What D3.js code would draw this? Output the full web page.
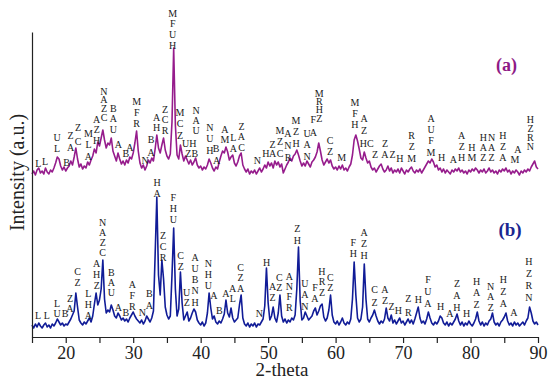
<!DOCTYPE html>
<html>
<head>
<meta charset="utf-8">
<script src="https://cdn.jsdelivr.net/npm/d3@7"></script>
<style>
  html, body { margin: 0; padding: 0; background: #fff; }
  svg { display: block; }
  svg text { font-family: "Liberation Serif", "Times New Roman", "DejaVu Serif", serif !important; }
</style>
</head>
<body>
<svg id="chart" width="550" height="383"></svg>
<script>
// ---------- DATA ----------
const thetaStart = 15;
const thetaStep = 0.25;

// (a) sample pattern, intensity (a.u., offset trace)
const seriesA = [
163,166,162,167,169,164,166,163,169,165,163,167,165,169,174,180,178,171,167,170,
166,169,171,176,172,180,189,178,170,173,168,171,169,175,172,177,181,188,184,195,
191,199,207,197,189,194,192,199,186,181,176,184,178,173,176,172,177,174,180,178,
184,194,206,186,174,169,172,167,171,177,174,179,176,188,202,189,184,192,199,187,
181,178,183,215,289,212,182,178,192,183,176,181,177,173,177,172,175,179,172,169,
171,167,170,168,172,178,174,169,166,170,168,175,181,186,184,190,185,177,180,182,
174,171,175,181,184,172,168,165,168,163,166,164,167,163,166,169,165,168,172,169,
175,171,174,169,176,172,175,170,173,164,168,172,175,179,176,181,183,187,182,176,
171,174,171,176,173,170,175,177,180,185,194,186,177,172,175,178,174,177,171,168,
170,167,171,168,172,167,169,166,170,173,182,197,202,196,188,179,177,185,179,174,
176,170,167,169,165,168,171,173,168,165,167,171,166,169,164,167,165,168,164,169,
166,163,167,165,168,170,166,164,167,165,168,164,167,170,173,176,174,178,175,170,
172,167,169,165,168,164,167,165,163,167,165,168,166,169,165,167,164,166,163,167,
165,168,166,169,167,164,167,165,168,164,166,169,165,167,164,166,163,167,165,168,
166,169,165,167,163,166,164,167,165,162,166,164,167,165,168,166,170,173,176,170,
168];

// (b) sample pattern
const seriesB = [
12,9,13,10,14,11,9,12,14,10,12,9,13,11,14,18,15,12,14,11,
13,12,15,18,22,26,44,30,17,14,12,15,13,16,19,15,21,33,44,32,
37,48,77,38,24,27,25,32,27,21,19,24,21,17,19,16,18,15,19,22,
25,21,18,16,14,17,13,16,21,18,15,19,26,82,140,62,42,77,58,30,
22,18,21,62,109,48,21,28,65,34,17,21,25,16,19,24,28,25,17,14,
12,15,11,14,24,44,29,18,21,15,13,16,14,18,23,37,24,20,29,19,
15,17,19,32,42,19,13,11,14,10,13,11,14,10,13,12,15,18,31,69,
34,17,21,30,19,15,24,42,21,15,18,14,17,15,19,17,22,48,90,36,
17,19,25,21,17,19,21,26,29,22,26,31,33,20,16,19,27,42,22,15,
13,16,12,15,19,14,12,15,13,18,38,75,42,19,15,18,30,73,38,18,
15,19,22,27,21,16,13,16,14,18,29,19,16,22,14,17,13,16,19,14,
16,12,15,18,14,17,13,18,24,30,19,14,16,13,18,25,19,14,12,15,
13,16,21,19,14,12,15,11,14,12,15,18,23,16,12,15,11,14,12,16,
13,11,14,18,25,16,12,15,11,14,12,16,18,24,15,12,14,11,15,17,
20,24,16,12,14,11,15,12,14,11,13,15,12,16,19,30,24,16,13,15,
12];

// phase annotations: [2-theta, intensity of lowest letter, intensity of top letter, letters top→bottom]
const labelsA = [
[15.93,174,174,"L"],[16.93,176,176,"L"],[18.71,189,200,"U/L"],[20.14,175,175,"B"],
[20.71,190,202,"Z/A"],[21.82,196,210,"Z/C"],[23.37,181,204,"M/L/A"],[24.59,197,218,"A/Z/H"],
[25.67,220,246,"N/A/Z/C"],[27.05,208,229,"B/A/U"],[27.79,193,193,"A"],[28.89,184,184,"B"],
[29.52,190,190,"A"],[30.52,214,236,"M/F/R"],[31.75,177,177,"N"],[32.64,185,198,"B/A"],
[33.48,210,220,"A/H"],[34.71,207,228,"Z/C/R"],[35.85,292,324,"M/F/U/H"],[36.94,202,225,"M/C/Z"],
[38.31,194,194,"UH"],[38.67,184,184,"ZB"],[39.31,207,227,"N/A/U"],[41.38,187,210,"N/U/H"],
[42.27,189,189,"B"],[42.38,177,177,"A"],[43.6,198,208,"A/M"],[44.84,189,200,"L/A"],
[46.05,190,211,"Z/A/C"],[48.39,177,177,"N"],[49.68,184,184,"H"],[50.67,184,193,"Z/A"],
[51.76,184,207,"M/Z/C"],[52.94,180,204,"A/N/R"],[54.13,194,217,"M/Z/H"],[55.76,181,204,"U/A/N"],
[56.69,205,218,"F/A"],[57.58,219,244,"M/R/H/Z"],[59.17,186,197,"C/Z"],[60.9,180,180,"M"],
[62.87,213,235,"M/F/H"],[64.21,207,219,"A/Z"],[64.61,194,194,"HC"],[65.84,183,183,"Z"],
[67.32,183,194,"Z/A"],[68.46,183,183,"Z"],[69.54,179,179,"H"],[71.28,179,202,"R/Z/M"],
[74.14,185,219,"A/U/F/M"],[75.72,180,180,"H"],[77.44,178,178,"A"],[78.69,180,202,"A/Z/H"],
[80.2,180,190,"H/M"],[81.89,180,200,"H/A/Z"],[83.13,180,200,"N/A/Z"],[84.81,180,202,"H/Z/A"],
[87.03,188,188,"A"],[86.59,178,178,"M"],[88.88,191,218,"H/Z/R/N"]
];

const labelsB = [
[15.89,22,22,"L"],[17.18,22,22,"L"],[18.71,24,34,"L/U"],[19.89,24,24,"B"],
[20.63,29,39,"Z/A"],[21.77,55,66,"C/Z"],[23.34,22,44,"L/H/A"],[24.59,52,74,"A/H/Z"],
[25.48,85,115,"N/A/Z/C"],[26.75,45,65,"B/A/U"],[27.79,30,30,"A"],[28.89,25,25,"B"],
[29.87,31,53,"A/F/R"],[31.35,25,25,"N"],[32.39,32,44,"B/A"],[33.53,144,155,"H/A"],
[34.42,80,102,"Z/C/R"],[35.94,118,140,"F/H/U"],[37.04,71,82,"C/Z"],[37.93,35,45,"U/Z"],
[39.16,35,80,"A/U/B/N/H"],[41.13,52,74,"N/H/U"],[41.97,42,42,"A"],[42.76,27,27,"B"],
[43.75,44,44,"A"],[44.75,39,49,"A/L"],[45.93,49,70,"C/Z/A"],[48.69,24,24,"N"],
[49.79,75,75,"H"],[50.67,40,51,"A/Z"],[51.65,50,60,"C/Z"],[53.14,30,61,"A/N/F/R"],
[54.32,97,109,"Z/H"],[55.46,31,54,"U/A/N"],[56.94,39,50,"F/A"],[57.98,45,66,"H/R/Z"],
[59.21,50,60,"C/Z"],[62.62,84,95,"F/H"],[64.21,82,105,"A/Z/H"],[65.79,35,48,"C/Z"],
[67.32,37,48,"A/Z"],[68.31,31,31,"Z"],[69.29,27,27,"H"],[70.77,25,39,"Z/R"],
[72.26,38,38,"H"],[73.69,34,58,"F/U/A"],[75.57,31,31,"H"],[76.95,24,24,"A"],
[77.99,30,54,"Z/A/H"],[79.43,24,24,"H"],[80.91,33,56,"H/A/Z"],[82.99,30,51,"N/A/Z"],
[84.85,34,58,"H/Z/A"],[86.44,25,25,"A"],[88.66,40,76,"H/Z/R/N"]
];

const xTickValues = [15,20,25,30,35,40,45,50,55,60,65,70,75,80,85,90];
const xTickLabels = [20,30,40,50,60,70,80,90];
const seriesNames = ["(a)", "(b)"];
const xTitle = "2-theta";
const yTitle = "Intensity (a.u.)";

// ---------- DRAW ----------
const svg = d3.select("#chart");
const serif = "Liberation Serif, Times New Roman, serif";
const colA = "#961c8c", colB = "#111c97";

const x = d3.scaleLinear().domain([15, 90]).range([32, 538]);
const y = d3.scaleLinear().domain([0, 305]).range([337, 32]);

const line = d3.line()
  .x((d, i) => x(thetaStart + i * thetaStep))
  .y(d => y(d));

svg.append("path").datum(seriesA)
  .attr("d", line).attr("fill", "none")
  .attr("stroke", colA).attr("stroke-width", 1.6).attr("stroke-linejoin", "round");
svg.append("path").datum(seriesB)
  .attr("d", line).attr("fill", "none")
  .attr("stroke", colB).attr("stroke-width", 1.6).attr("stroke-linejoin", "round");

// axes
const xAxis = d3.axisBottom(x)
  .tickValues(xTickValues)
  .tickSize(6).tickSizeOuter(0).tickPadding(3)
  .tickFormat(d => xTickLabels.includes(d) ? String(d) : "");
const gx = svg.append("g").attr("transform", `translate(0,${y(0)})`).call(xAxis);
gx.attr("font-family", null);
gx.selectAll("path, line").attr("stroke", "#222").attr("stroke-width", 1.2);
gx.selectAll("text").attr("font-size", 18).attr("fill", "#222");

const yAxis = d3.axisLeft(y).tickValues([]).tickSizeOuter(0);
const gy = svg.append("g").attr("transform", `translate(${x(15)},0)`).call(yAxis);
gy.selectAll("path").attr("stroke", "#222").attr("stroke-width", 1.2);

// titles
svg.append("text").attr("x", 282).attr("y", 376)
  .attr("text-anchor", "middle").attr("font-size", 19)
  .attr("fill", "#222").text(xTitle);
svg.append("text").attr("transform", "translate(24,172.5) rotate(-90)")
  .attr("text-anchor", "middle").attr("font-size", 20)
  .attr("fill", "#222").text(yTitle);

// series tags
svg.append("text").attr("x", 506.5).attr("y", 71)
  .attr("text-anchor", "middle").attr("font-size", 18)
  .attr("font-weight", "bold").attr("fill", "#8e1a86").text(seriesNames[0]);
svg.append("text").attr("x", 510).attr("y", 236)
  .attr("text-anchor", "middle").attr("font-size", 19)
  .attr("font-weight", "bold").attr("fill", "#1a2690").text(seriesNames[1]);

// annotations
function drawLabels(list) {
  const g = svg.append("g")
    .attr("font-size", 10).attr("fill", "#1a1a1a")
    .attr("text-anchor", "middle");
  list.forEach(([t, vb, vt, txt]) => {
    const lines = txt.split("/");
    const n = lines.length;
    const yb = y(vb), yt = y(vt);
    const step = n > 1 ? (yb - yt) / (n - 1) : 0;
    lines.forEach((s, i) => {
      g.append("text")
        .attr("x", x(t))
        .attr("y", yt + i * step)
        .attr("dy", "0.36em")
        .text(s);
    });
  });
}
drawLabels(labelsA);
drawLabels(labelsB);
</script>
</body>
</html>
